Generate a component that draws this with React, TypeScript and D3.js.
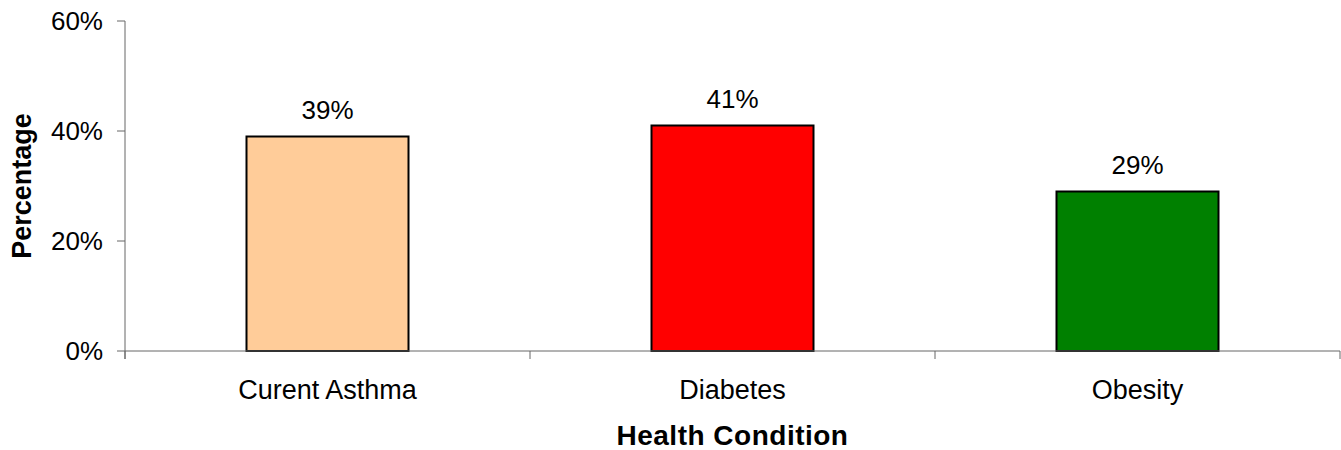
import React from "react";
import * as d3 from "d3";

const categories = ["Curent Asthma", "Diabetes", "Obesity"];
const values = [0.39, 0.41, 0.29];
const barColors = ["#FFCC99", "#FF0000", "#008000"];
const yTicks = [0, 0.2, 0.4, 0.6];
const xTitle = "Health Condition";
const yTitle = "Percentage";

const W = 1341;
const H = 450;
const left = 125;
const right = 1340;
const top = 21;
const bottom = 351;
const font = "'Liberation Sans', Arial, sans-serif";

export default function App() {
  const x = d3.scaleBand<string>().domain(categories).range([left, right]).padding(0);
  const y = d3.scaleLinear().domain([0, 0.6]).range([bottom, top]);
  const bw = x.bandwidth() * 0.4;
  const fmt = d3.format(".0%");
  const boundaries = [...categories.map((c) => x(c) as number), right];
  const axisColor = "#666";

  return (
    <svg width={W} height={H} style={{ position: "absolute", left: 0, top: 0 }} fontFamily={font}>
      <rect x={0} y={0} width={W} height={H} fill="#fff" />
      {/* bars */}
      {categories.map((c, i) => {
        const cx = (x(c) as number) + x.bandwidth() / 2;
        return (
          <g key={c}>
            <rect
              x={cx - bw / 2}
              y={y(values[i])}
              width={bw}
              height={y(0) - y(values[i])}
              fill={barColors[i]}
              stroke="#000"
              strokeWidth={2}
            />
            <text x={cx} y={y(values[i]) - 18} textAnchor="middle" fontSize={26} fill="#000">
              {fmt(values[i])}
            </text>
            <text x={cx} y={bottom + 48} textAnchor="middle" fontSize={27} fill="#000">
              {c}
            </text>
          </g>
        );
      })}
      {/* y axis */}
      <line x1={left} x2={left} y1={top} y2={bottom + 8} stroke={axisColor} strokeWidth={1} />
      {yTicks.map((t) => (
        <g key={t}>
          <line x1={left - 8} x2={left} y1={y(t)} y2={y(t)} stroke={axisColor} strokeWidth={1} />
          <text x={103} y={y(t) + 9} textAnchor="end" fontSize={26} fill="#000">
            {fmt(t)}
          </text>
        </g>
      ))}
      {/* x axis */}
      <line x1={left} x2={right} y1={bottom} y2={bottom} stroke={axisColor} strokeWidth={1} />
      {boundaries.map((b, i) => (
        <line key={i} x1={b} x2={b} y1={bottom} y2={bottom + 8} stroke={axisColor} strokeWidth={1} />
      ))}
      <text
        x={(left + right) / 2}
        y={445}
        textAnchor="middle"
        fontSize={28}
        fontWeight="bold"
        letterSpacing={0.5}
        fill="#000"
      >
        {xTitle}
      </text>
      <text
        transform={`translate(31, ${(top + bottom) / 2}) rotate(-90)`}
        textAnchor="middle"
        fontSize={27}
        fontWeight="bold"
        fill="#000"
      >
        {yTitle}
      </text>
    </svg>
  );
}
